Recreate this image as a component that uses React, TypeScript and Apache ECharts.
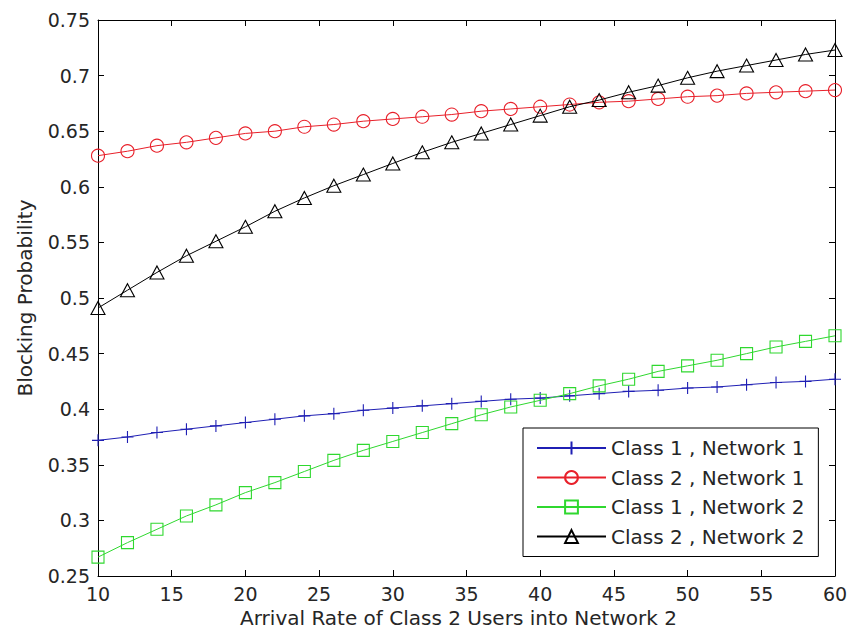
import React, { useEffect, useRef } from "react";
import * as echarts from "echarts";

const xValues = [10, 12, 14, 16, 18, 20, 22, 24, 26, 28, 30, 32, 34, 36, 38, 40, 42, 44, 46, 48, 50, 52, 54, 56, 58, 60];

const class1Net1 = [0.372, 0.375, 0.379, 0.382, 0.385, 0.388, 0.391, 0.394, 0.396, 0.399, 0.401, 0.403, 0.405, 0.407, 0.409, 0.410, 0.412, 0.414, 0.416, 0.417, 0.419, 0.420, 0.422, 0.424, 0.425, 0.427];
const class2Net1 = [0.628, 0.632, 0.637, 0.640, 0.644, 0.648, 0.650, 0.654, 0.656, 0.659, 0.661, 0.663, 0.665, 0.668, 0.670, 0.672, 0.674, 0.676, 0.677, 0.679, 0.681, 0.682, 0.684, 0.685, 0.686, 0.687];
const class1Net2 = [0.267, 0.280, 0.292, 0.304, 0.314, 0.325, 0.334, 0.344, 0.354, 0.363, 0.371, 0.379, 0.387, 0.395, 0.402, 0.408, 0.414, 0.421, 0.427, 0.434, 0.439, 0.444, 0.450, 0.456, 0.461, 0.466];
const class2Net2 = [0.491, 0.507, 0.523, 0.538, 0.551, 0.564, 0.578, 0.590, 0.601, 0.611, 0.621, 0.631, 0.640, 0.648, 0.656, 0.664, 0.672, 0.678, 0.685, 0.691, 0.698, 0.704, 0.709, 0.714, 0.719, 0.723];

const seriesNames = ["Class 1 , Network 1", "Class 2 , Network 1", "Class 1 , Network 2", "Class 2 , Network 2"];
const seriesColors = ["#1f1fb4", "#e8202a", "#2fd82f", "#000000"];

const xTitle = "Arrival Rate of Class 2 Users into Network 2";
const yTitle = "Blocking Probability";

const FONT = "DejaVu Sans";
const TEXT_COLOR = "#262626";

export default function App() {
  const ref = useRef<HTMLDivElement>(null);

  useEffect(() => {
    if (!ref.current) return;
    const chart = echarts.init(ref.current, undefined, { renderer: "svg" });

    const values = [class1Net1, class2Net1, class1Net2, class2Net2];
    const symbols = ["path://M0,6L12,6M6,0L6,12", "circle", "rect", "triangle"];
    const sizes: any[] = [12, 13, 12, [14, 13]];

    const series = values.map((vals, i) => ({
      name: seriesNames[i],
      type: "line",
      xAxisIndex: 0,
      yAxisIndex: 0,
      data: xValues.map((x, j) => [x, vals[j]]),
      symbol: symbols[i],
      symbolSize: sizes[i],
      showAllSymbol: true,
      lineStyle: { color: seriesColors[i], width: 1 },
      itemStyle: { color: "none", borderColor: seriesColors[i], borderWidth: 1.1 },
      emphasis: { disabled: true },
      z: 2 + i,
    }));

    const axisLine = { show: true, onZero: false, lineStyle: { color: "#000", width: 1 } };
    const tick = { show: true, inside: true, length: 6, lineStyle: { color: "#000", width: 1 } };

    chart.setOption({
      animation: false,
      backgroundColor: "#fff",
      grid: { left: 98, right: 16, top: 20, bottom: 61, containLabel: false },
      xAxis: [
        {
          type: "value",
          min: 10,
          max: 60,
          interval: 5,
          position: "bottom",
          axisLine,
          axisTick: tick,
          splitLine: { show: false },
          axisLabel: { fontFamily: FONT, fontSize: 19, color: TEXT_COLOR, margin: 8 },
          name: xTitle,
          nameLocation: "middle",
          nameGap: 32,
          nameTextStyle: { fontFamily: FONT, fontSize: 20, color: TEXT_COLOR, padding: [0, 16, 0, 0] },
        },
        {
          type: "value",
          min: 10,
          max: 60,
          interval: 5,
          position: "top",
          axisLine,
          axisTick: tick,
          splitLine: { show: false },
          axisLabel: { show: false },
        },
      ],
      yAxis: [
        {
          type: "value",
          min: 0.25,
          max: 0.75,
          interval: 0.05,
          position: "left",
          axisLine,
          axisTick: tick,
          splitLine: { show: false },
          axisLabel: {
            fontFamily: FONT,
            fontSize: 19,
            color: TEXT_COLOR,
            margin: 8,
            formatter: (v: number) => String(Math.round(v * 100) / 100),
          },
          name: yTitle,
          nameLocation: "middle",
          nameGap: 63,
          nameTextStyle: { fontFamily: FONT, fontSize: 20, color: TEXT_COLOR },
        },
        {
          type: "value",
          min: 0.25,
          max: 0.75,
          interval: 0.05,
          position: "right",
          axisLine,
          axisTick: tick,
          splitLine: { show: false },
          axisLabel: { show: false },
        },
      ],
      legend: {
        orient: "vertical",
        left: 523,
        top: 428,
        data: seriesNames,
        itemWidth: 69,
        itemHeight: 16,
        itemGap: 9.5,
        padding: [10, 14, 10, 13],
        borderColor: "#000",
        borderWidth: 1,
        backgroundColor: "#fff",
        selectedMode: false,
        textStyle: { fontFamily: FONT, fontSize: 20, color: TEXT_COLOR, lineHeight: 20 },
      },
      series,
    });

    return () => chart.dispose();
  }, []);

  return (
    <div
      ref={ref}
      style={{ position: "fixed", left: 0, top: 0, width: 851, height: 637, background: "#fff" }}
    />
  );
}
